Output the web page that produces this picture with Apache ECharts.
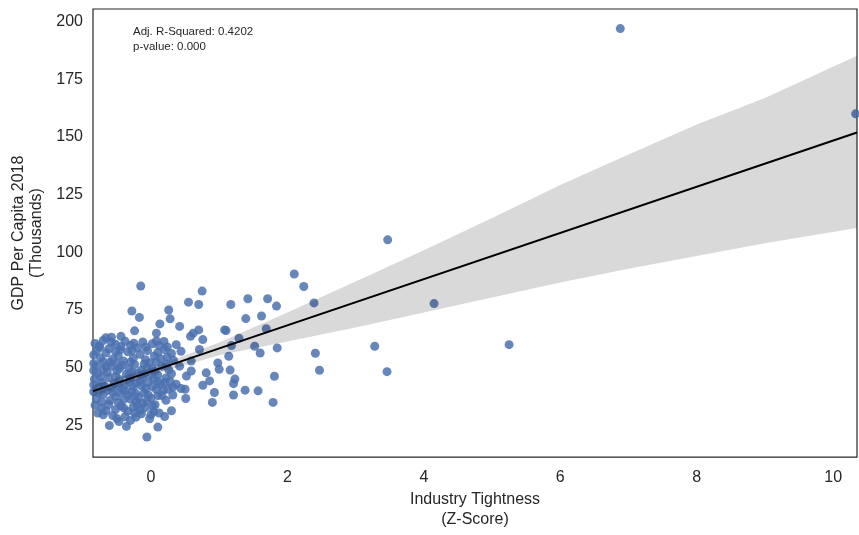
<!DOCTYPE html>
<html>
<head>
<meta charset="utf-8">
<script src="https://cdn.jsdelivr.net/npm/echarts@6/dist/echarts.min.js"></script>
<style>
  html, body { margin: 0; padding: 0; background: #fff; }
  #chart { width: 859px; height: 535px; }
</style>
</head>
<body>
<div id="chart"></div>
<script>
// tick labels
const xTicks = [0, 2, 4, 6, 8, 10]
const yTicks = [25, 50, 75, 100, 125, 150, 175, 200]

// points away from the main cluster [z-score, gdp]
const spreadPoints = [
  [6.88, 196.9], [10.33, 160.0], [3.47, 105.4], [2.24, 85.2], [2.39, 78.1], [4.15, 77.8],
  [2.41, 56.3], [2.47, 48.9], [3.28, 59.3], [3.46, 48.3], [5.25, 60.0],
  [1.14, 55.0], [1.60, 56.4], [1.16, 49.0], [1.23, 45.1], [1.21, 43.1], [1.81, 46.3],
  [1.38, 40.3], [1.57, 40.0], [1.21, 38.2], [1.79, 35.0],
  [2.10, 90.6], [1.17, 77.4], [1.42, 79.9], [1.71, 79.9], [1.84, 76.7], [1.39, 71.3],
  [1.62, 72.4], [1.69, 66.9], [1.10, 66.1], [1.29, 62.8], [1.18, 59.6], [1.52, 59.3], [1.85, 58.6],
  [-0.15, 85.4], [0.75, 83.2], [0.55, 78.4], [0.70, 77.4], [-0.28, 74.6], [-0.17, 71.8],
  [0.26, 75.0], [0.28, 71.2], [0.42, 67.9], [0.13, 69.0], [-0.24, 66.0], [0.62, 65.0],
  [0.70, 66.4], [0.76, 62.2], [0.58, 63.6], [1.08, 66.4], [-0.58, 63.2], [-0.44, 63.6],
  [-0.75, 58.9], [0.08, 65.0], [0.19, 61.4], [0.37, 60.0], [0.44, 57.1], [0.71, 57.9],
  [-0.06, 20.0], [0.10, 24.3], [-0.36, 24.6], [-0.61, 25.0], [-0.70, 29.6], [-0.47, 26.7],
  [-0.22, 28.6], [-0.02, 27.9], [0.03, 33.3], [0.30, 31.4], [0.10, 37.9], [0.32, 38.2],
  [0.51, 36.7], [0.44, 41.0], [0.25, 40.7], [0.76, 42.4], [0.86, 44.3], [0.93, 39.3],
  [0.90, 35.0], [0.81, 47.8], [1.00, 49.3], [0.98, 52.1], [0.59, 48.6], [0.59, 52.9],
  [0.42, 50.7], [0.37, 42.9], [0.52, 46.4], [0.50, 40.7]
]

// dense cluster near zero
const clusterPoints = [
  [-0.82, 60.5], [-0.70, 61.8], [-0.52, 60.2], [-0.38, 61.5], [-0.30, 59.8], [-0.12, 61.2],
  [0.02, 60.4], [0.12, 59.6], [-0.62, 58.2], [-0.45, 57.8], [-0.20, 58.6], [-0.05, 57.4],
  [0.20, 57.9], [0.30, 56.2],
  [-0.84, 55.6], [-0.74, 54.2], [-0.66, 56.4], [-0.56, 53.8], [-0.48, 55.2], [-0.34, 56.9],
  [-0.26, 54.1], [-0.16, 55.8], [-0.08, 53.5], [0.05, 55.1], [0.14, 53.9], [0.24, 54.6],
  [0.33, 53.2], [-0.60, 52.4], [-0.40, 52.9], [-0.02, 52.2],
  [-0.80, 50.8], [-0.70, 49.2], [-0.58, 50.6], [-0.50, 48.6], [-0.42, 51.1], [-0.32, 49.5],
  [-0.24, 51.4], [-0.14, 48.9], [-0.06, 50.2], [0.06, 48.4], [0.16, 50.7], [0.26, 49.1],
  [-0.78, 47.4], [-0.64, 47.9], [-0.36, 47.2], [-0.20, 47.6], [0.10, 46.8], [0.22, 45.6],
  [-0.83, 45.1], [-0.72, 43.6], [-0.62, 45.8], [-0.54, 43.1], [-0.46, 44.9], [-0.38, 42.6],
  [-0.30, 45.3], [-0.22, 43.4], [-0.12, 45.9], [-0.04, 43.8], [0.04, 45.2], [0.14, 42.9],
  [0.28, 44.1], [-0.76, 41.9], [-0.58, 41.2], [-0.42, 40.6], [-0.26, 41.7], [-0.08, 41.0],
  [0.18, 40.3],
  [-0.84, 39.6], [-0.70, 38.4], [-0.64, 40.2], [-0.52, 37.6], [-0.46, 39.4], [-0.34, 38.1],
  [-0.28, 39.8], [-0.18, 37.3], [-0.10, 39.1], [0.00, 36.8], [0.08, 40.6], [-0.80, 36.4],
  [-0.60, 35.8], [-0.40, 36.3], [-0.22, 35.4], [0.22, 35.9], [-0.12, 34.6],
  [-0.82, 33.8], [-0.72, 32.6], [-0.62, 34.1], [-0.52, 31.9], [-0.44, 33.5], [-0.34, 31.2],
  [-0.26, 33.0], [-0.16, 31.6], [-0.08, 32.8], [0.12, 30.4], [-0.78, 30.4], [-0.56, 29.3],
  [-0.38, 28.8], [-0.14, 30.1], [0.20, 28.9], [-0.30, 27.2],
  [-0.76, 59.4], [-0.58, 61.0], [-0.44, 59.2], [-0.25, 60.6], [-0.08, 59.0], [0.08, 61.6],
  [0.24, 59.0], [-0.80, 57.2], [-0.52, 57.0], [-0.28, 57.4], [0.10, 56.6], [-0.70, 52.6],
  [-0.50, 51.8], [-0.30, 52.4], [-0.10, 51.6], [0.08, 52.6], [0.22, 51.6],
  [-0.84, 48.8], [-0.66, 50.6], [-0.46, 49.8], [-0.28, 48.2], [-0.10, 47.4], [0.02, 49.6],
  [0.30, 47.4], [-0.74, 46.0], [-0.52, 46.2], [-0.32, 46.6], [-0.16, 44.2], [0.00, 47.0],
  [0.20, 43.6], [0.32, 41.6], [-0.68, 42.0], [-0.48, 42.2], [-0.32, 43.8], [-0.14, 42.2],
  [0.02, 41.8], [0.10, 44.0], [-0.76, 39.0], [-0.56, 39.2], [-0.38, 40.0], [-0.22, 38.8],
  [-0.04, 38.2], [0.16, 38.0], [-0.72, 35.2], [-0.48, 35.0], [-0.30, 36.4], [-0.06, 35.6],
  [0.06, 34.0], [-0.66, 31.4], [-0.40, 32.6], [-0.20, 33.8], [0.04, 31.0], [-0.50, 28.0],
  [-0.24, 30.4], [0.00, 29.6], [-0.84, 42.6], [-0.84, 51.8], [-0.66, 63.0]
]

// fitted line and confidence band
const fitX = [-0.85, 10.35]
const fitY = [39.9, 151.9]
const bandX = [-0.85, 0, 1, 2, 3, 4, 5, 6, 7, 8, 9, 10.35]
const bandUpper = [42.4, 49.9, 60.9, 73.9, 87.4, 100.9, 114.9, 129.2, 142.4, 155.4, 166.9, 185.2]
const bandLower = [37.4, 46.9, 55.4, 61.4, 67.4, 73.9, 80.4, 86.9, 92.9, 98.4, 103.9, 110.5]

const font = '"Liberation Sans", Arial, sans-serif'
const ink = '#262626'

const chart = echarts.init(document.getElementById('chart'))
chart.setOption({
  animation: false,
  textStyle: { fontFamily: font },
  grid: {
    left: 93, right: 2, top: 9, bottom: 73,
    show: true,
    borderColor: ink,
    borderWidth: 1.2
  },
  xAxis: {
    type: 'value',
    min: -0.85,
    max: 10.35,
    splitLine: { show: false },
    axisLine: { show: false },
    axisTick: { show: false },
    axisLabel: { customValues: xTicks, fontSize: 16, color: ink, margin: 12 },
    name: 'Industry Tightness\n(Z-Score)',
    nameLocation: 'middle',
    nameGap: 26,
    nameTextStyle: { fontSize: 16, lineHeight: 20, color: ink }
  },
  yAxis: {
    type: 'value',
    min: 11.3,
    max: 205.4,
    splitLine: { show: false },
    axisLine: { show: false },
    axisTick: { show: false },
    axisLabel: { customValues: yTicks, fontSize: 16, color: ink, margin: 10 },
    name: 'GDP Per Capita 2018\n(Thousands)',
    nameLocation: 'middle',
    nameGap: 46,
    nameTextStyle: { fontSize: 16, lineHeight: 18, color: ink }
  },
  graphic: [{
    type: 'text',
    left: 133,
    top: 25,
    style: {
      text: 'Adj. R-Squared: 0.4202\np-value: 0.000',
      fontSize: 11.5,
      lineHeight: 14.5,
      fill: ink,
      fontFamily: font
    }
  }],
  series: [
    {
      type: 'scatter',
      z: 2,
      symbolSize: 9,
      clip: true,
      itemStyle: { color: '#4c72b0', opacity: 0.85 },
      data: spreadPoints.concat(clusterPoints)
    },
    {
      // confidence band
      type: 'custom',
      z: 3,
      silent: true,
      data: [[0, 0]],
      renderItem: function (params, api) {
        const upper = bandX.map((x, i) => api.coord([x, bandUpper[i]]))
        const lower = bandX.map((x, i) => api.coord([x, bandLower[i]])).reverse()
        return {
          type: 'polygon',
          shape: { points: upper.concat(lower) },
          style: { fill: 'rgba(0,0,0,0.15)' }
        }
      }
    },
    {
      type: 'line',
      z: 4,
      symbol: 'none',
      lineStyle: { color: '#000', width: 2 },
      data: fitX.map((x, i) => [x, fitY[i]])
    }
  ]
})
</script>
</body>
</html>
